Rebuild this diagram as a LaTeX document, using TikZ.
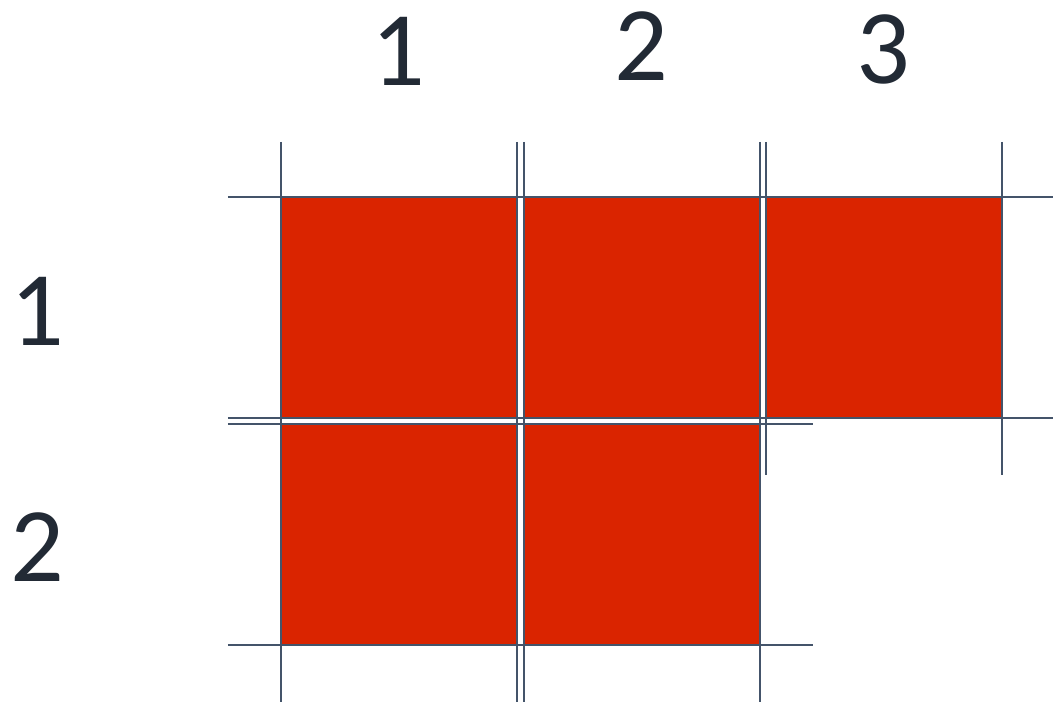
\documentclass[tikz,border=0pt]{standalone}
\usepackage{fontspec}
\setmainfont{Carlito}
\usetikzlibrary{calc}
\definecolor{cellred}{RGB}{218,36,0}
\definecolor{gridline}{RGB}{68,84,106}
\definecolor{labeltext}{RGB}{34,42,53}
\tikzset{
  cell/.style={rectangle, inner sep=0pt, draw=none, fill=cellred,
    minimum width=236pt, minimum height=221pt},
  gl/.style={draw=gridline, line width=2pt},
  lbl/.style={inner sep=0pt, text=labeltext, font=\fontsize{106}{110}\selectfont}
}
\begin{document}
\begin{tikzpicture}[x=1pt,y=-1pt]
\useasboundingbox (0,0) rectangle (1053,704);
% cells
\node[cell] (c11) at (399,307.5) {};
\node[cell] (c12) at (642,307.5) {};
\node[cell] (c13) at (884,307.5) {};
\node[cell] (c21) at (399,534.5) {};
\node[cell] (c22) at (642,534.5) {};
% extended grid lines around each cell
\foreach \c in {c11,c12,c13,c21,c22}{
  \draw[gl] ([xshift=-53pt]\c.north west) -- ([xshift=53pt]\c.north east);
  \draw[gl] ([xshift=-53pt]\c.south west) -- ([xshift=53pt]\c.south east);
  \draw[gl] ([yshift=55pt]\c.north west) -- ([yshift=-57pt]\c.south west);
  \draw[gl] ([yshift=55pt]\c.north east) -- ([yshift=-57pt]\c.south east);
}
% labels
\node[lbl] (col1) at (398,51) {1};
\node[lbl] (col2) at (641,46) {2};
\node[lbl] (col3) at (883,49) {3};
\node[lbl] (row1) at (37,311) {1};
\node[lbl] (row2) at (37,547) {2};
\end{tikzpicture}
\end{document}
